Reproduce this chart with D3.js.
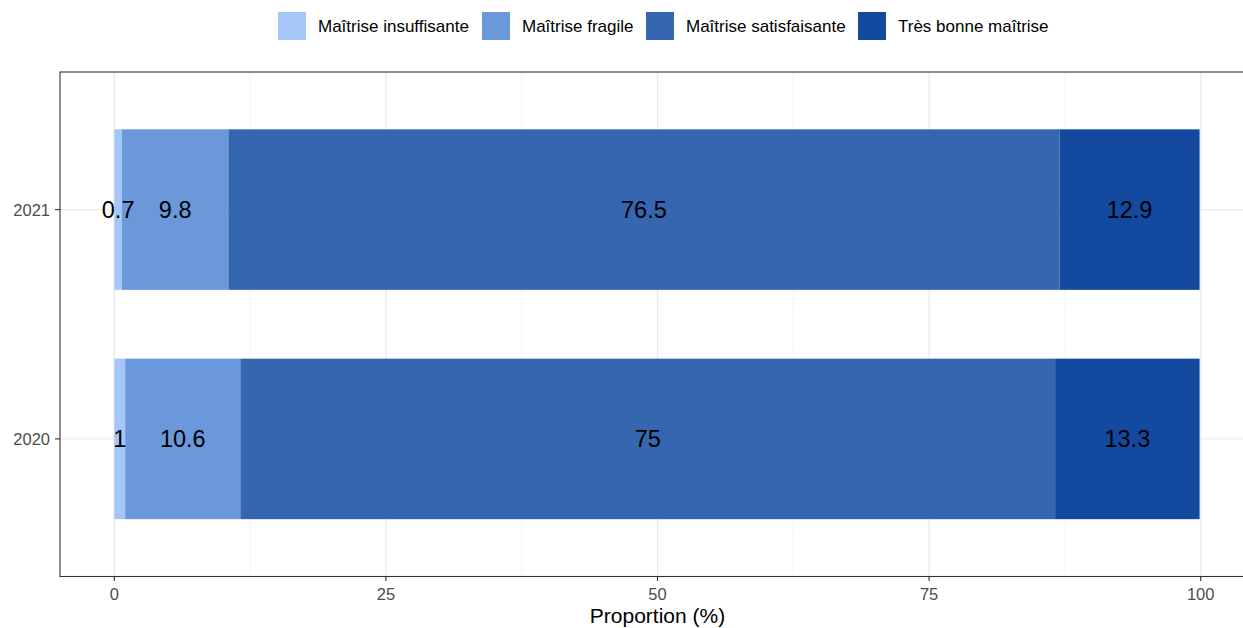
<!DOCTYPE html>
<html><head><meta charset="utf-8">
<script src="https://cdn.jsdelivr.net/npm/d3@7"></script>
<style>body{margin:0;background:#fff}svg{font-family:"Liberation Sans",Arial,sans-serif}</style>
</head><body>
<svg id="c" width="1243" height="628"></svg>
<script>
const years = ["2020", "2021"];
const levels = ["Maîtrise insuffisante", "Maîtrise fragile", "Maîtrise satisfaisante", "Très bonne maîtrise"];
const colors = ["#a4c6f8", "#6a98da", "#3566b0", "#1449a0"];
const values2020 = [1, 10.6, 75, 13.3];
const values2021 = [0.7, 9.8, 76.5, 12.9];
const xTicks = [0, 25, 50, 75, 100];
const xMinor = [12.5, 37.5, 62.5, 87.5];

const svg = d3.select("#c");
const x = d3.scaleLinear().domain([-5, 105]).range([60, 1255]);
const y = d3.scaleLinear().domain([0.4, 2.6]).range([576.5, 72]);
const yIndex = {"2020": 1, "2021": 2};
const bandH = y(0) - y(0.7);

// panel
const g = svg.append("g");
g.selectAll(".minor").data(xMinor).join("line")
  .attr("x1", d => x(d)).attr("x2", d => x(d)).attr("y1", y(2.6)).attr("y2", y(0.4))
  .attr("stroke", "#f2f2f2").attr("stroke-width", 0.8);
g.selectAll(".major").data(xTicks).join("line")
  .attr("x1", d => x(d)).attr("x2", d => x(d)).attr("y1", y(2.6)).attr("y2", y(0.4))
  .attr("stroke", "#ebebeb").attr("stroke-width", 1.3);
g.selectAll(".hmajor").data(years).join("line")
  .attr("x1", x(-5)).attr("x2", x(105)).attr("y1", d => y(yIndex[d])).attr("y2", d => y(yIndex[d]))
  .attr("stroke", "#ebebeb").attr("stroke-width", 1.3);

const data = [["2020", values2020], ["2021", values2021]];
data.forEach(([yr, vals]) => {
  let cum = 0;
  const segs = vals.map((v, i) => { const s = {start: cum, v, i}; cum += v; return s; });
  const cy = y(yIndex[yr]);
  g.selectAll(null).data(segs).join("rect")
    .attr("x", d => x(d.start)).attr("width", d => x(d.start + d.v) - x(d.start))
    .attr("y", cy - bandH / 2).attr("height", bandH)
    .attr("fill", d => colors[d.i]);
  g.selectAll(null).data(segs).join("text")
    .attr("x", d => x(d.start + d.v / 2)).attr("y", cy + 8.3)
    .attr("text-anchor", "middle").attr("font-size", 23.5).attr("fill", "#000")
    .text(d => String(d.v));
});

g.append("rect").attr("x", x(-5)).attr("y", y(2.6)).attr("width", x(105) - x(-5)).attr("height", y(0.4) - y(2.6))
  .attr("fill", "none").attr("stroke", "#333").attr("stroke-width", 1.1);

// x axis
const xa = svg.append("g");
xa.selectAll("line").data(xTicks).join("line")
  .attr("x1", d => x(d)).attr("x2", d => x(d)).attr("y1", y(0.4)).attr("y2", y(0.4) + 4.5)
  .attr("stroke", "#333").attr("stroke-width", 1.1);
xa.selectAll("text").data(xTicks).join("text")
  .attr("x", d => x(d)).attr("y", 599.5).attr("text-anchor", "middle")
  .attr("font-size", 16.5).attr("fill", "#4d4d4d").text(d => d);
svg.append("text").attr("x", x(50)).attr("y", 623).attr("text-anchor", "middle")
  .attr("font-size", 21).attr("fill", "#000").text("Proportion (%)");

// y axis
const ya = svg.append("g");
ya.selectAll("line").data(years).join("line")
  .attr("x1", x(-5) - 5).attr("x2", x(-5)).attr("y1", d => y(yIndex[d])).attr("y2", d => y(yIndex[d]))
  .attr("stroke", "#333").attr("stroke-width", 1.1);
ya.selectAll("text").data(years).join("text")
  .attr("x", x(-5) - 10).attr("y", d => y(yIndex[d]) + 6).attr("text-anchor", "end")
  .attr("font-size", 16.5).attr("fill", "#4d4d4d").text(d => d);

// legend
const legX = [278, 482, 646, 858];
const lg = svg.append("g");
levels.forEach((lv, i) => {
  lg.append("rect").attr("x", legX[i]).attr("y", 12).attr("width", 28).attr("height", 28).attr("fill", colors[i]);
  lg.append("text").attr("x", legX[i] + 40).attr("y", 32).attr("font-size", 17).attr("fill", "#000").text(lv);
});
</script>
</body></html>
